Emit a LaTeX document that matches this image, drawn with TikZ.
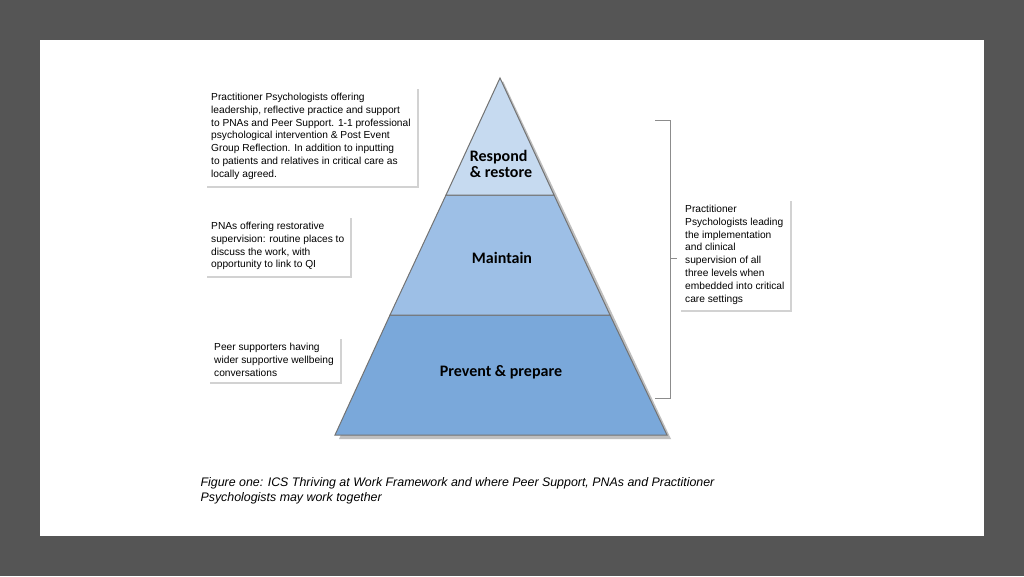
\documentclass[tikz,border=0pt]{standalone}
\usepackage{fontspec}
\setmainfont{Liberation Sans}
\newfontfamily\tierfont{Carlito}
\usetikzlibrary{shadows}
\definecolor{Frame}{HTML}{555555}
\definecolor{TierTop}{HTML}{C6DAF0}
\definecolor{TierMid}{HTML}{9DBFE6}
\definecolor{TierLow}{HTML}{7AA8DA}
\begin{document}
\begin{tikzpicture}[
  x=1pt, y=-1pt,
  note/.style = {fill=white, drop shadow={shadow xshift=2pt,shadow yshift=-2pt,opacity=.35},
    align=left, anchor=north west, font=\fontsize{10.2}{12.8}\selectfont, inner sep=6pt},
  tier/.style = {draw=black!55, line width=1pt},
  tierlabel/.style = {font=\tierfont\bfseries\fontsize{16}{16.5}\selectfont, align=left}
  ]
  \useasboundingbox (0,0) rectangle (1024,576);
  \fill[Frame] (0,0) rectangle (1024,576);
  \fill[white] (40,40) rectangle (984,536);
  % pyramid
  \fill[black!25] (503,81) -- (671,439) -- (339,439) -- cycle;
  \filldraw[tier, fill=TierLow] (390,315) -- (610,315) -- (667,435) -- (335,435) -- cycle;
  \filldraw[tier, fill=TierMid] (446,195) -- (554,195) -- (610,315) -- (390,315) -- cycle;
  \filldraw[tier, fill=TierTop] (500,78) -- (554,195) -- (446,195) -- cycle;
  \node[tierlabel] (respond) at (501,164) {Respond\\\& restore};
  \node[tierlabel] (maintain) at (502,258) {Maintain};
  \node[tierlabel] (prevent) at (501,372) {Prevent \& prepare};
  % notes
  \node[note] (psych) at (205,87) {Practitioner Psychologists offering\\
    leadership, reflective practice and support\\to PNAs and Peer Support. 1-1 professional\\
    psychological intervention \& Post Event\\Group Reflection. In addition to inputting\\
    to patients and relatives in critical care as\\locally agreed.};
  \node[note] (pna) at (205,216) {PNAs offering restorative\\
    supervision: routine places to\\discuss the work, with\\opportunity to link to QI};
  \node[note] (peer) at (208,337) {Peer supporters having\\
    wider supportive wellbeing\\conversations};
  \node[note] (lead) at (679,199) {Practitioner\\Psychologists leading\\
    the implementation\\and clinical\\supervision of all\\three levels when\\
    embedded into critical\\care settings};
  % bracket
  \draw[black!45, line width=.8pt] (655,120) -- (670,120) -- (670,398) -- (655,398)
    (670,258) -- (677,258);
  \node[anchor=north west, align=left, font=\itshape\fontsize{12.4}{15}\selectfont] (caption)
    at (197,474) {Figure one: ICS Thriving at Work Framework and where Peer Support, PNAs and Practitioner\\Psychologists may work together};
\end{tikzpicture}
\end{document}
